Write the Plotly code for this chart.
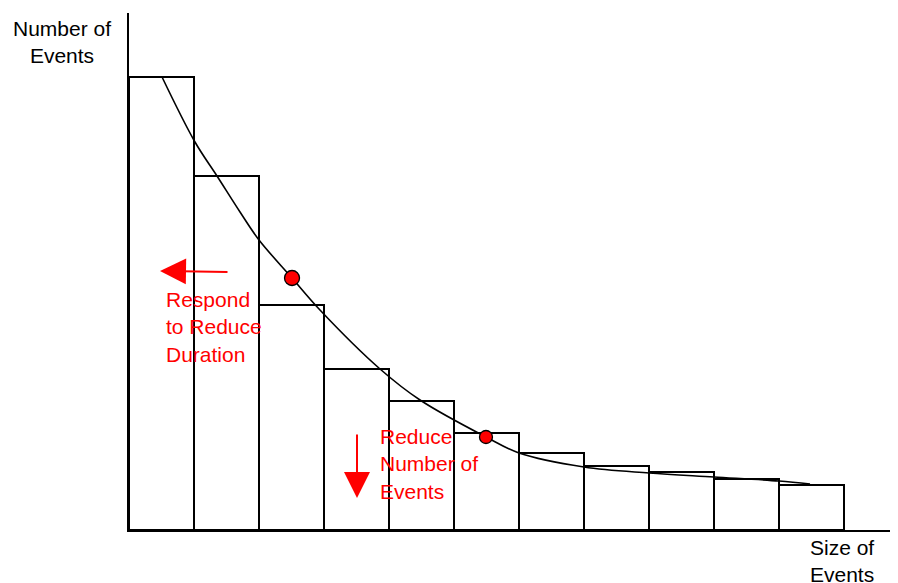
import plotly.graph_objects as go

# Histogram bars (bin index, height in chart units)
bar_x = [0.5, 1.5, 2.5, 3.5, 4.5, 5.5, 6.5, 7.5, 8.5, 9.5, 10.5]
bar_h = [453, 354, 225, 161, 129, 97, 77, 64, 58, 51, 45]

# Fitted curve
curve_x = [0.508, 1.015, 1.354, 1.708, 2.0, 2.508, 2.938, 3.862, 4.477, 5.492, 6.0, 7.0, 8.0, 9.0, 10.0, 10.477]
curve_y = [453, 388, 354, 318, 290, 252, 220, 161, 130, 93, 77, 63, 57, 53, 49, 46]

# Highlighted points
dot_x = [2.508, 5.492]
dot_y = [252, 93]
dot_size = [15, 13]

FONT = "Liberation Sans, Arial, sans-serif"
OFF = 8  # page body margin
W, H = 898 - OFF, 583 - OFF
L, R, T, B = 129 - OFF, 0, 13 - OFF, 53
XMAX = (W - L - R) / 65.0
YMAX = H - T - B

fig = go.Figure()
fig.add_trace(go.Bar(x=bar_x, y=bar_h, width=1,
                     marker=dict(color="white", line=dict(color="black", width=2)),
                     hoverinfo="skip"))
fig.add_trace(go.Scatter(x=curve_x, y=curve_y, mode="lines",
                         line=dict(color="black", width=1.6, shape="spline", smoothing=1.0),
                         hoverinfo="skip"))
fig.add_trace(go.Scatter(x=dot_x, y=dot_y, mode="markers",
                         marker=dict(color="#ff0000", size=dot_size, opacity=1,
                                     line=dict(color="black", width=1.3)),
                         hoverinfo="skip"))

# reference pixel -> data coordinates
def px2x(px):
    return (px - 129) / 65.0

def py2y(py):
    return 530 - py

def px2p(px):
    return (px - 129) / (W - L - R)

def py2p(py):
    return (530 - py) / YMAX

red = "#ff0000"
annotations = [
    dict(x=px2x(160), y=py2y(271), ax=px2x(229), ay=py2y(272), xref="x", yref="y",
         axref="x", ayref="y", text="", showarrow=True, arrowhead=2, arrowsize=2.6,
         arrowwidth=2, arrowcolor=red),
    dict(x=px2x(357), y=py2y(498), ax=px2x(357), ay=py2y(433), xref="x", yref="y",
         axref="x", ayref="y", text="", showarrow=True, arrowhead=2, arrowsize=2.6,
         arrowwidth=2, arrowcolor=red),
    dict(x=px2x(164), y=py2y(327), xref="x", yref="y", xanchor="left", yanchor="middle",
         align="left", showarrow=False, text="Respond<br>to Reduce<br>Duration",
         font=dict(family=FONT, size=21, color=red)),
    dict(x=px2x(378), y=py2y(464), xref="x", yref="y", xanchor="left", yanchor="middle",
         align="left", showarrow=False, text="Reduce<br>Number of<br>Events",
         font=dict(family=FONT, size=21, color=red)),
    dict(x=px2p(62), y=py2p(42), xref="paper", yref="paper",
         xanchor="center", yanchor="middle", align="center", showarrow=False,
         text="Number of<br>Events", font=dict(family=FONT, size=21, color="black")),
    dict(x=px2p(842), y=py2p(561), xref="paper", yref="paper",
         xanchor="center", yanchor="middle", align="center", showarrow=False,
         text="Size of<br>Events", font=dict(family=FONT, size=21, color="black")),
]

fig.update_layout(
    width=W, height=H,
    margin=dict(l=L, r=R, t=T, b=B),
    plot_bgcolor="white", paper_bgcolor="white",
    showlegend=False,
    bargap=0,
    annotations=annotations,
    xaxis=dict(range=[0, XMAX], showline=True, linecolor="black", linewidth=2,
               showgrid=False, zeroline=False, showticklabels=False, ticks=""),
    yaxis=dict(range=[0, YMAX], showline=True, linecolor="black", linewidth=2,
               showgrid=False, zeroline=False, showticklabels=False, ticks=""),
)

fig.write_html("out.html")
